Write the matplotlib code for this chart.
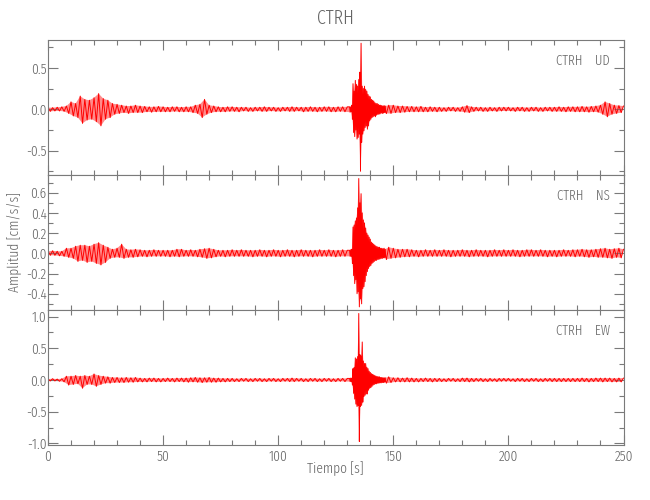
import numpy as np
import matplotlib
matplotlib.use("Agg")
import matplotlib.pyplot as plt
from matplotlib.ticker import MultipleLocator, FormatStrFormatter

# ---------------- data (successive signed peaks) ----------------
station = "CTRH"
components = ["UD", "NS", "EW"]
dt = 1.0          # s between listed peaks (whole record)
ev_t0 = 131.0     # start of the finely read main-event window
ev_dt = 0.25      # s between listed peaks inside that window

ud = [
    0.020, -0.025, 0.020, -0.020, 0.025, -0.020, 0.030, -0.025, 0.040, -0.050,
    0.090, -0.080, 0.070, -0.100, 0.160, -0.170, 0.120, -0.130, 0.110, -0.120,
    0.140, -0.150, 0.190, -0.200, 0.130, -0.120, 0.110, -0.100, 0.070, -0.060,
    0.060, -0.050, 0.050, -0.040, 0.040, -0.050, 0.040, -0.040, 0.050, -0.040,
    0.040, -0.040, 0.035, -0.030, 0.030, -0.035, 0.030, -0.030, 0.035, -0.030,
    0.030, -0.030, 0.025, -0.030, 0.030, -0.025, 0.030, -0.030, 0.025, -0.030,
    0.030, -0.030, 0.030, -0.040, 0.050, -0.050, 0.060, -0.100, 0.120, -0.060,
    0.050, -0.040, 0.040, -0.030, 0.030, -0.030, 0.025, -0.030, 0.030, -0.025,
    0.030, -0.025, 0.025, -0.030, 0.025, -0.020, 0.025, -0.025, 0.020, -0.025,
    0.025, -0.020, 0.025, -0.025, 0.030, -0.025, 0.025, -0.020, 0.025, -0.025,
    0.020, -0.025, 0.025, -0.020, 0.025, -0.025, 0.030, -0.025, 0.025, -0.020,
    0.025, -0.030, 0.025, -0.025, 0.030, -0.025, 0.025, -0.030, 0.025, -0.025,
    0.030, -0.025, 0.030, -0.030, 0.025, -0.030, 0.030, -0.025, 0.030, -0.030,
    0.030, -0.035, 0.310, -0.330, 0.360, -0.750, 0.800, -0.280, 0.250, -0.220,
    0.150, -0.120, 0.100, -0.090, 0.080, -0.060, 0.060, -0.050, 0.050, -0.050,
    0.050, -0.040, 0.040, -0.040, 0.040, -0.035, 0.035, -0.030, 0.035, -0.030,
    0.030, -0.030, 0.035, -0.030, 0.025, -0.030, 0.030, -0.025, 0.025, -0.030,
    0.025, -0.025, 0.020, -0.025, 0.025, -0.020, 0.025, -0.025, 0.020, -0.025,
    0.030, -0.035, 0.045, -0.040, 0.030, -0.025, 0.025, -0.020, 0.025, -0.025,
    0.020, -0.025, 0.025, -0.020, 0.020, -0.025, 0.025, -0.020, 0.025, -0.020,
    0.025, -0.020, 0.020, -0.025, 0.025, -0.020, 0.025, -0.025, 0.020, -0.025,
    0.025, -0.020, 0.025, -0.025, 0.020, -0.025, 0.025, -0.020, 0.025, -0.025,
    0.025, -0.025, 0.030, -0.025, 0.025, -0.030, 0.030, -0.025, 0.030, -0.030,
    0.030, -0.030, 0.035, -0.030, 0.030, -0.035, 0.035, -0.030, 0.040, -0.035,
    0.050, -0.060, 0.090, -0.090, 0.070, -0.060, 0.050, -0.050, 0.045, -0.040,
    0.040,
]
ud_event = [
    0.030, -0.035, 0.030, -0.030,
    0.050, -0.120, 0.310, -0.280,
    0.220, -0.330, 0.350, -0.250,
    0.300, -0.360, 0.280, -0.340,
    0.360, -0.300, 0.450, -0.750,
    0.800, -0.400, 0.280, -0.300,
    0.250, -0.260, 0.280, -0.220,
    0.240, -0.200, 0.220, -0.240,
    0.180, -0.200, 0.160, -0.140,
    0.150, -0.120, 0.120, -0.100,
    0.110, -0.090, 0.100, -0.080,
    0.080, -0.090, 0.070, -0.070,
    0.070, -0.060, 0.060, -0.060,
    0.050, -0.055, 0.050, -0.045,
    0.045, -0.050, 0.040, -0.045,
    0.045, -0.040, 0.040, -0.040,
]

ns = [
    0.020, -0.020, 0.025, -0.020, 0.020, -0.025, 0.020, -0.030, 0.050, -0.040,
    0.050, -0.050, 0.070, -0.080, 0.080, -0.070, 0.080, -0.090, 0.070, -0.080,
    0.090, -0.100, 0.105, -0.115, 0.080, -0.090, 0.060, -0.050, 0.040, -0.040,
    0.050, -0.040, 0.090, -0.050, 0.040, -0.040, 0.035, -0.040, 0.040, -0.035,
    0.035, -0.030, 0.030, -0.035, 0.030, -0.030, 0.035, -0.030, 0.030, -0.030,
    0.030, -0.030, 0.030, -0.035, 0.030, -0.030, 0.040, -0.035, 0.040, -0.030,
    0.030, -0.030, 0.035, -0.030, 0.030, -0.035, 0.040, -0.040, 0.045, -0.050,
    0.050, -0.045, 0.040, -0.035, 0.030, -0.030, 0.030, -0.035, 0.030, -0.030,
    0.035, -0.030, 0.030, -0.030, 0.035, -0.030, 0.030, -0.030, 0.030, -0.035,
    0.030, -0.030, 0.035, -0.030, 0.030, -0.035, 0.030, -0.030, 0.035, -0.030,
    0.030, -0.035, 0.030, -0.030, 0.035, -0.030, 0.030, -0.035, 0.030, -0.030,
    0.035, -0.030, 0.030, -0.030, 0.030, -0.035, 0.030, -0.030, 0.035, -0.030,
    0.030, -0.030, 0.035, -0.030, 0.030, -0.035, 0.030, -0.030, 0.035, -0.030,
    0.030, -0.035, 0.260, -0.300, 0.740, -0.530, 0.590, -0.500, 0.330, -0.250,
    0.180, -0.150, 0.120, -0.100, 0.080, -0.070, 0.060, -0.060, 0.060, -0.050,
    0.050, -0.045, 0.040, -0.040, 0.040, -0.035, 0.040, -0.035, 0.035, -0.030,
    0.030, -0.035, 0.030, -0.030, 0.035, -0.030, 0.030, -0.030, 0.035, -0.030,
    0.030, -0.030, 0.035, -0.030, 0.030, -0.035, 0.030, -0.030, 0.030, -0.030,
    0.035, -0.030, 0.030, -0.035, 0.030, -0.030, 0.035, -0.030, 0.030, -0.030,
    0.030, -0.035, 0.030, -0.030, 0.035, -0.030, 0.030, -0.030, 0.035, -0.030,
    0.030, -0.030, 0.035, -0.030, 0.030, -0.035, 0.030, -0.030, 0.035, -0.030,
    0.035, -0.030, 0.030, -0.030, 0.035, -0.030, 0.030, -0.035, 0.030, -0.030,
    0.030, -0.035, 0.030, -0.030, 0.035, -0.030, 0.030, -0.030, 0.035, -0.035,
    0.035, -0.030, 0.040, -0.035, 0.035, -0.040, 0.035, -0.035, 0.040, -0.040,
    0.045, -0.040, 0.050, -0.045, 0.040, -0.050, 0.045, -0.040, 0.050, -0.045,
    0.040,
]
ns_event = [
    0.030, -0.030, 0.035, -0.030,
    0.040, -0.100, 0.260, -0.220,
    0.280, -0.300, 0.320, -0.260,
    0.350, -0.400, 0.450, -0.380,
    0.740, -0.530, 0.500, -0.450,
    0.590, -0.500, 0.400, -0.350,
    0.330, -0.330, 0.300, -0.280,
    0.250, -0.220, 0.200, -0.180,
    0.180, -0.150, 0.160, -0.130,
    0.140, -0.120, 0.110, -0.100,
    0.100, -0.090, 0.090, -0.080,
    0.080, -0.070, 0.070, -0.070,
    0.065, -0.060, 0.060, -0.060,
    0.060, -0.055, 0.050, -0.050,
    0.050, -0.050, 0.045, -0.045,
    0.050, -0.045, 0.040, -0.040,
]

ew = [
    0.015, -0.015, 0.020, -0.015, 0.015, -0.020, 0.020, -0.030, 0.060, -0.080,
    0.060, -0.070, 0.070, -0.060, 0.060, -0.130, 0.070, -0.070, 0.060, -0.070,
    0.095, -0.100, 0.070, -0.070, 0.060, -0.050, 0.050, -0.050, 0.040, -0.040,
    0.040, -0.040, 0.035, -0.040, 0.040, -0.035, 0.035, -0.035, 0.040, -0.030,
    0.030, -0.030, 0.025, -0.030, 0.030, -0.025, 0.030, -0.030, 0.025, -0.030,
    0.025, -0.025, 0.030, -0.025, 0.025, -0.030, 0.030, -0.025, 0.030, -0.030,
    0.030, -0.035, 0.035, -0.030, 0.040, -0.035, 0.035, -0.040, 0.035, -0.035,
    0.040, -0.035, 0.030, -0.035, 0.030, -0.030, 0.025, -0.030, 0.025, -0.025,
    0.025, -0.025, 0.020, -0.025, 0.025, -0.020, 0.025, -0.025, 0.020, -0.025,
    0.025, -0.020, 0.025, -0.025, 0.020, -0.025, 0.025, -0.020, 0.025, -0.025,
    0.020, -0.025, 0.025, -0.020, 0.025, -0.025, 0.030, -0.025, 0.025, -0.020,
    0.025, -0.025, 0.020, -0.025, 0.025, -0.020, 0.025, -0.025, 0.020, -0.025,
    0.025, -0.020, 0.025, -0.025, 0.020, -0.025, 0.025, -0.020, 0.025, -0.025,
    0.025, -0.030, 0.180, -0.380, 1.050, -0.970, 0.600, -0.420, 0.260, -0.260,
    0.150, -0.120, 0.100, -0.080, 0.060, -0.060, 0.050, -0.050, 0.050, -0.040,
    0.035, -0.030, 0.035, -0.030, 0.030, -0.030, 0.035, -0.030, 0.030, -0.030,
    0.025, -0.030, 0.025, -0.025, 0.030, -0.025, 0.025, -0.030, 0.025, -0.025,
    0.025, -0.025, 0.020, -0.025, 0.025, -0.020, 0.025, -0.025, 0.020, -0.025,
    0.030, -0.025, 0.030, -0.030, 0.025, -0.025, 0.025, -0.020, 0.025, -0.025,
    0.020, -0.025, 0.025, -0.020, 0.020, -0.025, 0.025, -0.020, 0.025, -0.020,
    0.025, -0.020, 0.020, -0.025, 0.025, -0.020, 0.025, -0.025, 0.020, -0.025,
    0.025, -0.020, 0.025, -0.025, 0.020, -0.025, 0.025, -0.020, 0.025, -0.025,
    0.025, -0.025, 0.025, -0.025, 0.025, -0.025, 0.025, -0.025, 0.025, -0.025,
    0.025, -0.025, 0.030, -0.025, 0.025, -0.030, 0.025, -0.025, 0.030, -0.025,
    0.030, -0.030, 0.030, -0.025, 0.030, -0.030, 0.025, -0.030, 0.030, -0.030,
    0.030,
]
ew_event = [
    0.025, -0.025, 0.030, -0.025,
    0.030, -0.080, 0.180, -0.210,
    0.200, -0.300, 0.350, -0.380,
    0.330, -0.420, 0.370, -0.400,
    1.050, -0.970, 0.400, -0.420,
    0.380, -0.400, 0.600, -0.350,
    0.300, -0.260, 0.260, -0.240,
    0.260, -0.220, 0.200, -0.220,
    0.180, -0.160, 0.140, -0.130,
    0.120, -0.120, 0.100, -0.100,
    0.090, -0.080, 0.080, -0.070,
    0.070, -0.060, 0.060, -0.060,
    0.055, -0.050, 0.050, -0.050,
    0.050, -0.045, 0.040, -0.045,
    0.040, -0.040, 0.035, -0.040,
    0.035, -0.035, 0.035, -0.030,
]

traces = [ud, ns, ew]
events = [ud_event, ns_event, ew_event]
ylims = [(-0.795, 0.839), (-0.561, 0.775), (-1.026, 1.105)]
ymajor = [0.5, 0.2, 0.5]
yminor = [0.25, 0.1, 0.25]
xlim = (0, 250)
xmajor, xminor = 50, 10
title = "CTRH"
xlabel = "Tiempo [s]"
ylabel = "Amplitud [cm/s/s]"

# ---------------- style ----------------
FONT = ["Fira Sans Extra Condensed", "DejaVu Sans"]
plt.rcParams["font.family"] = FONT
plt.rcParams["font.weight"] = 300
GRAY = "#7a7a7a"
TXT = "#666666"
RED = "#ff0000"

fig = plt.figure(figsize=(6.5, 5.0), dpi=100)
left, width = 48 / 650, 575.5 / 650
panel_h = 135 / 500
bottoms = [(500 - 175) / 500, (500 - 310) / 500, (500 - 445) / 500]

for i, (vals, evt, comp) in enumerate(zip(traces, events, components)):
    ax = fig.add_axes([left, bottoms[i], width, panel_h])
    t_main = np.arange(len(vals)) * dt
    t_evt = ev_t0 + np.arange(len(evt)) * ev_dt
    keep = (t_main < ev_t0) | (t_main >= ev_t0 + len(evt) * ev_dt)
    t = np.concatenate([t_main[keep], t_evt])
    v = np.concatenate([np.asarray(vals)[keep], np.asarray(evt)])
    order = np.argsort(t, kind="stable")
    t, v = t[order], v[order]
    # envelope band through the listed positive and negative peaks
    pos, neg = v > 0, v <= 0
    ax.fill(np.concatenate([t[pos], t[neg][::-1]]),
            np.concatenate([v[pos], v[neg][::-1]]),
            color=RED, alpha=0.45, lw=0)
    ax.plot(t, v, color=RED, lw=0.7)
    ax.set_xlim(*xlim)
    ax.set_ylim(*ylims[i])
    ax.xaxis.set_major_locator(MultipleLocator(xmajor))
    ax.xaxis.set_minor_locator(MultipleLocator(xminor))
    ax.yaxis.set_major_locator(MultipleLocator(ymajor[i]))
    ax.yaxis.set_minor_locator(MultipleLocator(yminor[i]))
    ax.yaxis.set_major_formatter(FormatStrFormatter("%.1f"))
    ax.tick_params(which="both", direction="in", top=True, right=True,
                   color=GRAY, width=0.8, labelcolor=TXT, labelsize=10.5)
    ax.tick_params(which="major", length=7.2)
    ax.tick_params(which="minor", length=3.6)
    ax.tick_params(axis="y", pad=1)
    ax.tick_params(axis="x", pad=3)
    for s in ax.spines.values():
        s.set_color(GRAY)
        s.set_linewidth(0.8)
    if i < 2:
        ax.tick_params(labelbottom=False)
    ax.text(0.976, 0.844, f"{station}    {comp}", transform=ax.transAxes,
            ha="right", va="center", fontsize=10, color=TXT)

fig.text(0.5165, 1 - 18 / 500, title, ha="center", va="center",
         fontsize=14, color=TXT)
fig.text(0.5165, 1 - 469 / 500, xlabel, ha="center", va="center",
         fontsize=10.5, color=TXT)
fig.text(14 / 650, 1 - 242 / 500, ylabel, ha="center", va="center",
         rotation=90, fontsize=10.5, color=TXT)

fig.savefig("out.png", dpi=100)
